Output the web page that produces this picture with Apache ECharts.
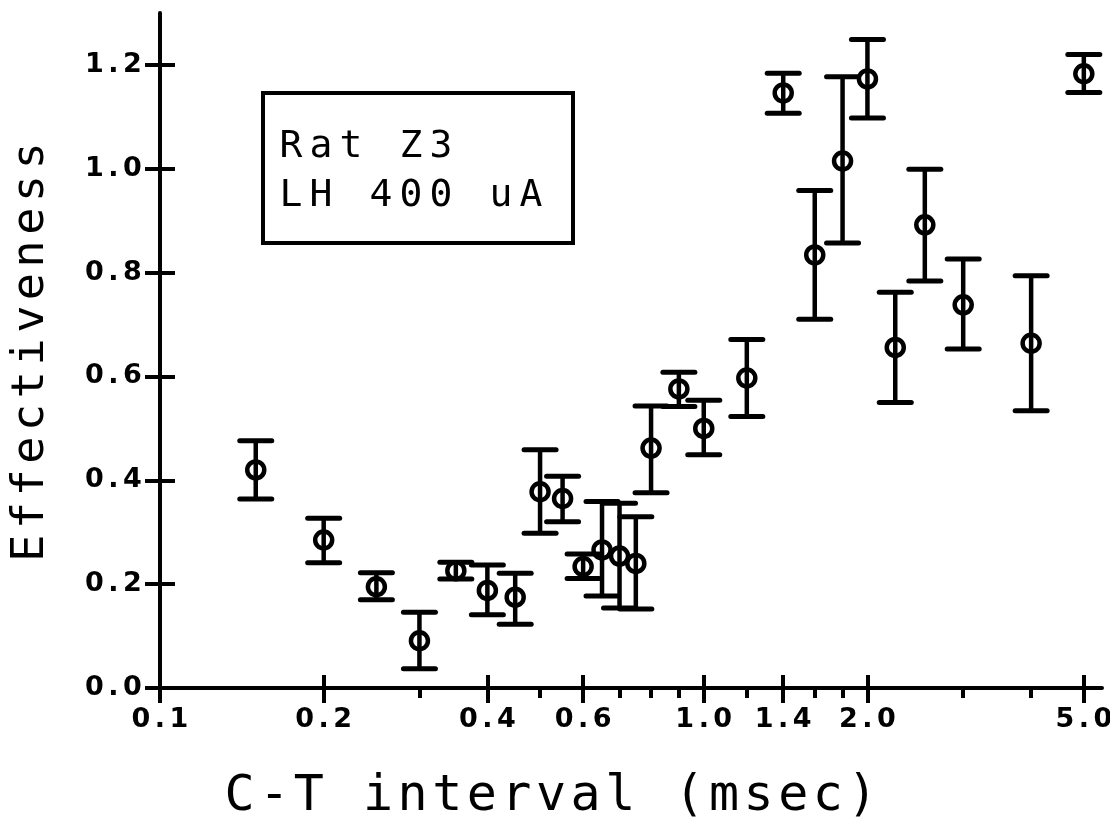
<!DOCTYPE html>
<html>
<head>
<meta charset="utf-8">
<title>Effectiveness vs C-T interval</title>
<script src="https://cdn.jsdelivr.net/npm/echarts@6.0.0/dist/echarts.min.js"></script>
<style>
html, body { margin: 0; padding: 0; background: #fff; }
#chart { width: 1110px; height: 831px; }
</style>
</head>
<body>
<div id="chart"></div>
<script>
// C-T 间隔 (msec)
var intervals = [0.15, 0.2, 0.25, 0.3, 0.35, 0.4, 0.45, 0.5, 0.55, 0.6, 0.65, 0.7, 0.75,
    0.8, 0.9, 1.0, 1.2, 1.4, 1.6, 1.8, 2.0, 2.25, 2.55, 3.0, 4.0, 5.0];
var effMean = [0.420, 0.285, 0.195, 0.091, 0.226, 0.188, 0.175, 0.378, 0.365, 0.234, 0.266, 0.254, 0.240,
    0.462, 0.576, 0.500, 0.597, 1.146, 0.834, 1.015, 1.173, 0.656, 0.892, 0.738, 0.664, 1.183];
var effLow = [0.364, 0.241, 0.170, 0.037, 0.210, 0.141, 0.123, 0.298, 0.320, 0.211, 0.177, 0.154, 0.152,
    0.376, 0.542, 0.449, 0.523, 1.107, 0.710, 0.857, 1.098, 0.550, 0.784, 0.653, 0.534, 1.147];
var effHigh = [0.476, 0.327, 0.222, 0.146, 0.242, 0.237, 0.221, 0.459, 0.408, 0.258, 0.359, 0.356, 0.330,
    0.543, 0.608, 0.554, 0.671, 1.184, 0.958, 1.177, 1.249, 0.762, 0.999, 0.826, 0.794, 1.220];

var xLabelTicks = [0.1, 0.2, 0.4, 0.6, 1.0, 1.4, 2.0, 5.0];
var xMinorTicks = [0.3, 0.5, 0.7, 0.8, 0.9, 1.2, 1.6, 1.8, 3.0, 4.0];
var yLabelTicks = [0, 0.2, 0.4, 0.6, 0.8, 1.0, 1.2];

var FONT = 'DejaVu Sans Mono';

// 每个字符一个定宽 rich 块, 模拟绘图仪字体的字距
function spread(str, key) {
    var out = '';
    for (var i = 0; i < str.length; i++) {
        out += '{' + key + '|' + str.charAt(i) + '}';
    }
    return out;
}

var tickRich = {
    t: { width: 19, align: 'center', fontFamily: 'DejaVu Sans', fontWeight: 'bold', fontSize: 27, color: '#000' }
};

var points = [];
for (var i = 0; i < intervals.length; i++) {
    points.push([intervals[i], effMean[i], effLow[i], effHigh[i]]);
}

function renderErr(params, api) {
    var x = api.value(0);
    var p = api.coord([x, api.value(1)]);
    var lo = api.coord([x, api.value(2)]);
    var hi = api.coord([x, api.value(3)]);
    var cap = 16;
    var capStyle = { stroke: '#000', lineWidth: 5, lineCap: 'round' };
    return {
        type: 'group',
        children: [
            { type: 'line', shape: { x1: lo[0], y1: lo[1], x2: hi[0], y2: hi[1] }, style: { stroke: '#000', lineWidth: 4.5 } },
            { type: 'line', shape: { x1: hi[0] - cap, y1: hi[1], x2: hi[0] + cap, y2: hi[1] }, style: capStyle },
            { type: 'line', shape: { x1: lo[0] - cap, y1: lo[1], x2: lo[0] + cap, y2: lo[1] }, style: capStyle },
            { type: 'circle', shape: { cx: p[0], cy: p[1], r: 8.5 }, style: { stroke: '#000', lineWidth: 4.5, fill: 'none' } }
        ]
    };
}

var axisLineStyle = { color: '#000', width: 4 };
var tickLine = { color: '#000', width: 4 };

var chart = echarts.init(document.getElementById('chart'));
var option = {
    backgroundColor: '#fff',
    animation: false,
    grid: { left: 160, right: 8, top: 13, bottom: 143, containLabel: false, outerBoundsMode: 'none' },
    xAxis: [
        {
            type: 'log', logBase: 10, min: 0.1, max: 5.4, position: 'bottom',
            axisLine: { show: true, onZero: false, lineStyle: axisLineStyle },
            axisTick: { show: true, inside: false, length: 15, customValues: xLabelTicks, lineStyle: tickLine },
            axisLabel: {
                show: true, margin: 18, customValues: xLabelTicks, rich: tickRich,
                formatter: function (v) { return spread(Number(v).toFixed(1), 't'); }
            },
            splitLine: { show: false }
        },
        {
            type: 'log', logBase: 10, min: 0.1, max: 5.4, position: 'bottom',
            axisLine: { show: false, onZero: false },
            axisTick: { show: true, inside: true, length: 13, customValues: xLabelTicks, lineStyle: tickLine },
            axisLabel: { show: false },
            splitLine: { show: false }
        },
        {
            type: 'log', logBase: 10, min: 0.1, max: 5.4, position: 'bottom',
            axisLine: { show: false, onZero: false },
            axisTick: { show: true, inside: false, length: 10, customValues: xMinorTicks, lineStyle: tickLine },
            axisLabel: { show: false },
            splitLine: { show: false }
        }
    ],
    yAxis: [
        {
            type: 'value', min: 0, max: 1.3, position: 'left',
            axisLine: { show: true, onZero: false, lineStyle: axisLineStyle },
            axisTick: { show: true, inside: false, length: 15, customValues: yLabelTicks, lineStyle: tickLine },
            axisLabel: {
                show: true, margin: 18, customValues: yLabelTicks, rich: tickRich,
                formatter: function (v) { return spread(Number(v).toFixed(1), 't'); }
            },
            splitLine: { show: false }
        },
        {
            type: 'value', min: 0, max: 1.3, position: 'left',
            axisLine: { show: false, onZero: false },
            axisTick: { show: true, inside: true, length: 15, customValues: yLabelTicks, lineStyle: tickLine },
            axisLabel: { show: false },
            splitLine: { show: false }
        }
    ],
    graphic: [
        { type: 'rect', shape: { x: 263, y: 93, width: 310, height: 150 }, style: { fill: 'none', stroke: '#000', lineWidth: 4 } },
        {
            type: 'text', x: 276, y: 147,
            style: { text: spread('Rat Z3', 'b'), align: 'left', verticalAlign: 'middle',
                rich: { b: { width: 30, align: 'center', fontFamily: FONT, fontSize: 38, color: '#000' } } }
        },
        {
            type: 'text', x: 276, y: 196,
            style: { text: spread('LH 400 uA', 'b'), align: 'left', verticalAlign: 'middle',
                rich: { b: { width: 30, align: 'center', fontFamily: FONT, fontSize: 38, color: '#000' } } }
        },
        {
            type: 'text', x: 31, y: 352, rotation: Math.PI / 2,
            style: { text: spread('Effectiveness', 'y'), align: 'center', verticalAlign: 'middle',
                rich: { y: { width: 32.7, align: 'center', fontFamily: FONT, fontSize: 45, color: '#000' } } }
        },
        {
            type: 'text', x: 551, y: 797,
            style: { text: spread('C-T interval (msec)', 'x'), align: 'center', verticalAlign: 'middle',
                rich: { x: { width: 34.6, align: 'center', fontFamily: FONT, fontSize: 50, color: '#000' } } }
        }
    ],
    series: [
        {
            type: 'custom',
            xAxisIndex: 0,
            yAxisIndex: 0,
            renderItem: renderErr,
            encode: { x: 0, y: 1 },
            data: points,
            clip: false
        }
    ]
};
chart.setOption(option);
</script>
</body>
</html>
